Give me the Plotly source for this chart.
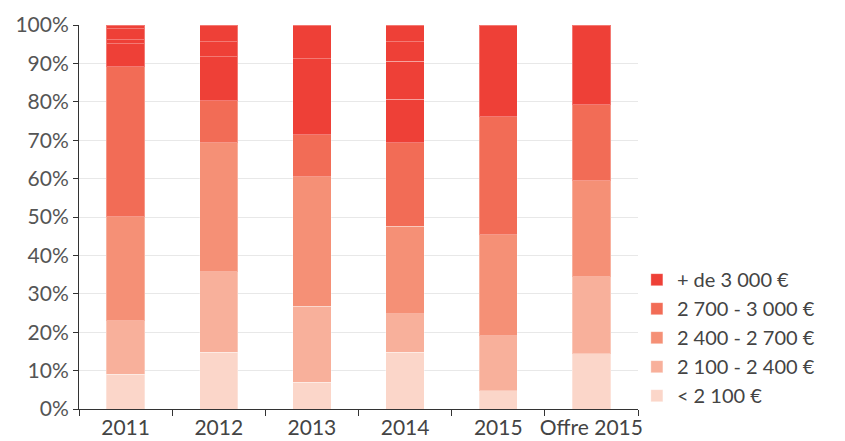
import plotly.graph_objects as go

categories = ["2011", "2012", "2013", "2014", "2015", "Offre 2015"]

s_lt2100 = [9.1, 14.8, 7.0, 14.8, 4.8, 14.4]
s_2100_2400 = [13.9, 21.0, 19.8, 10.0, 14.3, 20.1]
s_2400_2700 = [27.1, 33.6, 33.7, 22.8, 26.3, 25.0]
s_2700_3000 = [39.0, 10.9, 10.9, 21.8, 30.7, 19.7]
# "+ de 3 000 €" drawn as stacked sub-parts (same colour)
s_gt3000_a = [6.0, 11.4, 19.8, 11.3, 23.9, 20.8]
s_gt3000_b = [1.0, 3.9, 8.8, 9.9, None, None]
s_gt3000_c = [2.9, 4.4, None, 5.0, None, None]
s_gt3000_d = [1.0, None, None, 4.4, None, None]

series_names = ["< 2 100 €", "2 100 - 2 400 €", "2 400 - 2 700 €", "2 700 - 3 000 €", "+ de 3 000 €"]
colors = ["#FBD6C9", "#F8B09B", "#F59076", "#F26C56", "#EE4037"]

y_tick_vals = list(range(0, 101, 10))
y_tick_text = [f"{v}%" for v in y_tick_vals]

font_family = "Lato, 'Noto Sans', sans-serif"
line_style = dict(color="rgba(255,255,255,0.3)", width=1)

fig = go.Figure()
main_values = [s_lt2100, s_2100_2400, s_2400_2700, s_2700_3000]
for name, vals, col in zip(series_names[:4], main_values, colors[:4]):
    fig.add_trace(go.Bar(x=categories, y=vals, name=name,
                         marker=dict(color=col, line=line_style), width=0.41))

top_parts = [s_gt3000_a, s_gt3000_b, s_gt3000_c, s_gt3000_d]
for i, vals in enumerate(top_parts):
    fig.add_trace(go.Bar(x=categories, y=vals, name=series_names[4],
                         legendgroup="top", showlegend=(i == 0),
                         marker=dict(color=colors[4], line=line_style), width=0.41))

# page body has an 8px default margin: figure is sized/offset to compensate
fig.update_layout(
    barmode="stack",
    width=837, height=433,
    margin=dict(l=71, r=207, t=17, b=32, autoexpand=False),
    plot_bgcolor="white", paper_bgcolor="white",
    font=dict(family=font_family, size=21, color="#555555"),
    showlegend=True,
    legend=dict(x=0.998, xanchor="left", y=-0.016, yanchor="bottom",
                bgcolor="rgba(0,0,0,0)",
                traceorder="reversed", font=dict(size=20, color="#444444"),
                itemclick=False, tracegroupgap=0),
)
fig.update_yaxes(range=[0, 100], tickmode="array", tickvals=y_tick_vals, ticktext=y_tick_text,
                 showgrid=True, gridcolor="#e8e8e8", gridwidth=1,
                 showline=True, linecolor="#333333", linewidth=1,
                 ticks="outside", ticklen=5, tickcolor="#333333",
                 zeroline=False, automargin=False, tickfont=dict(size=21, color="#555555"))
fig.update_xaxes(showline=True, linecolor="#333333", linewidth=1,
                 ticks="outside", tickson="boundaries", ticklen=6, tickcolor="#333333",
                 tickangle=0, automargin=False,
                 tickfont=dict(size=21, color="#444444"))

fig.write_html("out.html")
